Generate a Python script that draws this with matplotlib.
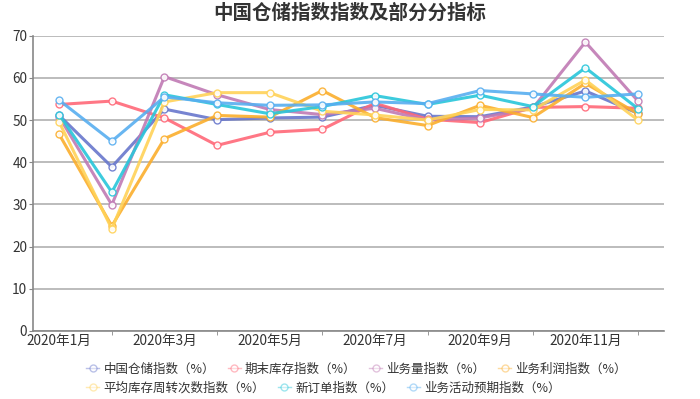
import matplotlib
matplotlib.use("Agg")
import matplotlib.pyplot as plt
import numpy as np

plt.rcParams['font.family'] = ['Noto Sans CJK SC', 'DejaVu Sans']

months = ["2020年1月", "2020年2月", "2020年3月", "2020年4月", "2020年5月", "2020年6月",
          "2020年7月", "2020年8月", "2020年9月", "2020年10月", "2020年11月", "2020年12月"]

cangchu = [51.1, 38.9, 52.6, 50.1, 50.5, 50.7, 53.5, 50.9, 50.8, 53.1, 56.9, 51.6]
kucun = [53.7, 54.5, 50.5, 44.0, 47.1, 47.8, 54.0, 50.2, 49.4, 53.0, 53.2, 52.8]
yewuliang = [50.8, 29.9, 60.3, 56.0, 52.5, 51.3, 52.8, 50.0, 50.5, 52.8, 68.5, 54.5]
lirun = [46.6, 24.9, 45.6, 51.1, 50.7, 57.0, 50.6, 48.7, 53.5, 50.6, 58.7, 51.5]
zhouzhuan = [49.5, 24.2, 54.3, 56.5, 56.5, 52.1, 51.2, 50.0, 52.5, 52.4, 59.5, 50.0]
xindingdan = [51.3, 32.9, 56.0, 53.7, 51.5, 53.2, 55.8, 53.7, 55.9, 53.2, 62.4, 52.7]
yuqi = [54.7, 45.0, 55.5, 54.1, 53.5, 53.6, 54.3, 53.9, 57.0, 56.2, 55.4, 56.2]

names = ["中国仓储指数（%）", "期末库存指数（%）", "业务量指数（%）", "业务利润指数（%）",
         "平均库存周转次数指数（%）", "新订单指数（%）", "业务活动预期指数（%）"]
series = [cangchu, kucun, yewuliang, lirun, zhouzhuan, xindingdan, yuqi]
colors = ["#6877cc", "#ff6878", "#c07ab4", "#fbae2c", "#ffd258", "#28c6da", "#58aef0"]

fig = plt.figure(figsize=(7, 3.99), dpi=100)
ax = fig.add_axes([0.047, 0.1705, 0.902, 0.74])

x = np.arange(len(months))
handles = []
for vals, name, c in zip(series, names, colors):
    h, = ax.plot(x, vals, color=c, lw=2.2, alpha=0.9, marker="o", ms=5,
                 mfc="white", mec=c, mew=1, label=name, zorder=3)
    handles.append(h)

ax.set_xlim(-0.5, 11.5)
ax.set_ylim(0, 70)
ax.set_yticks(range(0, 71, 10))
ax.yaxis.grid(True, color="#b0b0b0", lw=1.2)
ax.set_axisbelow(True)

ax.set_xticks(x[::2])
ax.set_xticklabels(months[::2])
ax.set_xticks(x[1::2], minor=True)
ax.tick_params(axis="x", which="major", length=0, pad=2, labelsize=9.8, colors="#333333")
ax.tick_params(axis="x", which="minor", length=3, color="#888888")
ax.tick_params(axis="y", length=3, color="#888888", labelsize=9.8, labelcolor="#333333", pad=1)

for s in ["top", "right"]:
    ax.spines[s].set_visible(False)
for s in ["left", "bottom"]:
    ax.spines[s].set_color("#888888")
    ax.spines[s].set_linewidth(1.2)

fig.text(0.5, 1 - 13 / 399, "中国仓储指数指数及部分分指标", ha="center", va="center",
         fontsize=14, fontweight="bold", color="#333333")

leg_kw = dict(frameon=False, fontsize=9, handlelength=1.05, handletextpad=0.35,
              columnspacing=1.0, borderpad=0, borderaxespad=0, labelcolor="#333333")
leg1 = fig.legend(handles[:4], names[:4], loc="center left", ncol=4,
                  bbox_to_anchor=(86 / 700, 1 - 369 / 399), **leg_kw)
leg2 = fig.legend(handles[4:], names[4:], loc="center left", ncol=3,
                  bbox_to_anchor=(86 / 700, 1 - 388 / 399), **leg_kw)
for leg in (leg1, leg2):
    for lh in leg.legend_handles:
        lh.set_alpha(0.45)
        lh.set_linewidth(1)

fig.savefig("out.png", dpi=100)
